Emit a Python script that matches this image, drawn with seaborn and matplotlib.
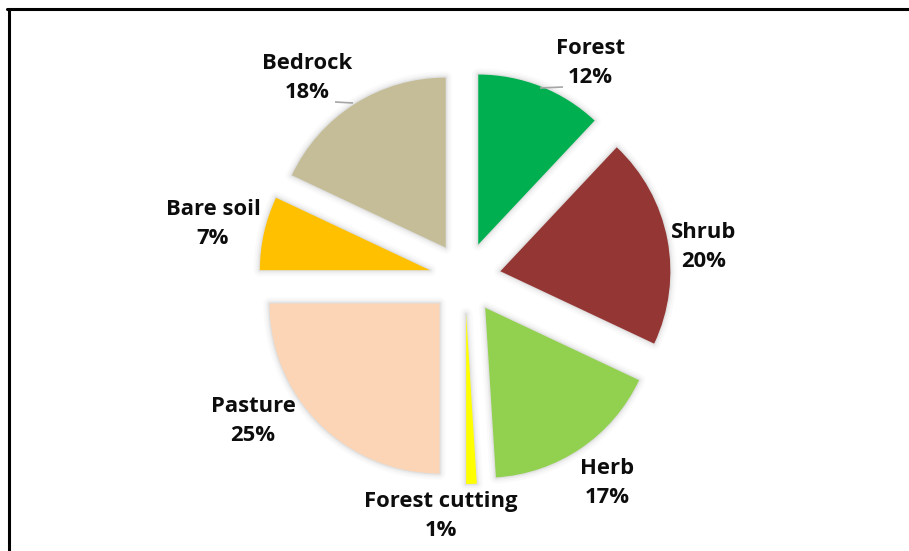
import matplotlib
matplotlib.use("Agg")
import matplotlib.pyplot as plt
from matplotlib.lines import Line2D
from matplotlib.patches import Wedge
import seaborn as sns

# Land-cover shares, clockwise from 12 o'clock
categories = ["Forest", "Shrub", "Herb", "Forest cutting", "Pasture", "Bare soil", "Bedrock"]
shares = [12, 20, 17, 1, 25, 7, 18]
slice_colors = ["#00B050", "#943634", "#92D050", "#FFFF00", "#FBD5B5", "#FFC000", "#C4BD97"]

# Canvas size in pixels (coordinates below are pixels, origin at top-left)
W, H = 909, 551

# Label anchor points (centre of the two-line label), top-left origin
label_xy = [(590, 63), (704, 247), (607, 483), (441, 516), (253, 421), (213, 224), (307, 78)]
# Short leader lines for the two top labels
leaders = {"Forest": ((540, 88), (563, 87)), "Bedrock": ((335, 102), (353, 103))}

sns.set_theme(style="white")
plt.rcParams["font.family"] = ["Open Sans", "DejaVu Sans"]

fig = plt.figure(figsize=(W / 100, H / 100), dpi=100)
fig.patch.set_facecolor("white")
ax = fig.add_axes([0, 0, 1, 1])

palette = sns.color_palette(slice_colors)
center = (465, H - 278)
radius = 170
offset = 36  # radial pull-out of every slice, in pixels
wedges, _ = ax.pie(
    shares,
    colors=palette,
    startangle=90,
    counterclock=False,
    explode=[offset] * len(shares),
    radius=radius,
    center=center,
    frame=True,
    wedgeprops=dict(linewidth=0, zorder=3),
)

# Soft drop-glow around each slice
for w in wedges:
    for lw, a in [(9, 0.018), (6, 0.025), (3.5, 0.035), (1.5, 0.05)]:
        ax.add_patch(Wedge(w.center, w.r, w.theta1, w.theta2, facecolor="none",
                           edgecolor="black", lw=lw, alpha=a, joinstyle="round",
                           zorder=2))

ax.set_xlim(0, W)
ax.set_ylim(0, H)
ax.set_aspect("equal")
ax.set_axis_off()

for name, val, (x, y) in zip(categories, shares, label_xy):
    ax.text(x, H - y, f"{name}\n{val}%", ha="center", va="center",
            fontsize=15.8, fontweight="bold", color="#0D0D0D", linespacing=1.5,
            zorder=5)

for name, ((x0, y0), (x1, y1)) in leaders.items():
    ax.plot([x0, x1], [H - y0, H - y1], color="#A6A6A6", lw=1.2,
            solid_capstyle="butt", zorder=4)

# Outer frame: left and top edges
fig.add_artist(Line2D([8.5 / W, 8.5 / W], [0, 1 - 8.5 / H], color="black", lw=2.2,
                      transform=fig.transFigure))
fig.add_artist(Line2D([7.5 / W, 1], [1 - 8.5 / H, 1 - 8.5 / H], color="black", lw=2.2,
                      transform=fig.transFigure))

fig.savefig("out.png", dpi=100, facecolor="white")
